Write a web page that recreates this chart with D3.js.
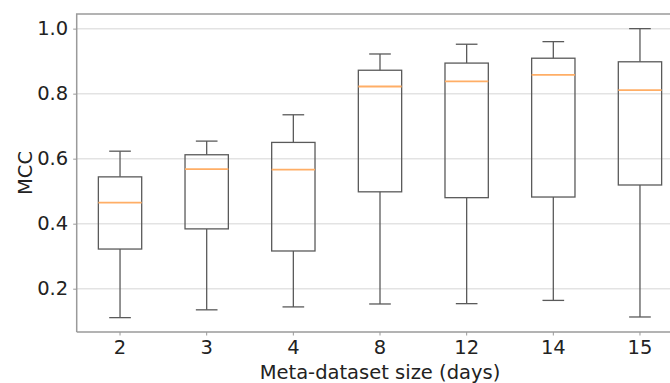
<!DOCTYPE html>
<html>
<head>
<meta charset="utf-8">
<script src="https://cdn.jsdelivr.net/npm/d3@7"></script>
<style>
  body { margin: 0; background: #fff; }
  svg { display: block; font-family: "DejaVu Sans", sans-serif; }
</style>
</head>
<body>
<svg id="chart" width="670" height="383"></svg>
<script>
// data
var sizes = ["2", "3", "4", "8", "12", "14", "15"]
var whiskerLow = [0.111, 0.135, 0.144, 0.153, 0.154, 0.164, 0.113]
var q1 = [0.322, 0.384, 0.316, 0.498, 0.480, 0.482, 0.519]
var median = [0.465, 0.568, 0.566, 0.822, 0.838, 0.858, 0.811]
var q3 = [0.544, 0.612, 0.650, 0.872, 0.894, 0.909, 0.898]
var whiskerHigh = [0.623, 0.654, 0.735, 0.922, 0.952, 0.960, 1.0]
var yTicks = [0.2, 0.4, 0.6, 0.8, 1.0]

var boxes = sizes.map(function(s, i){
  return {size: s, lo: whiskerLow[i], q1: q1[i], med: median[i], q3: q3[i], hi: whiskerHigh[i]}
})

var svg = d3.select("#chart")
var plotLeft = 76.7, plotRight = 683.3, plotTop = 14, plotBottom = 332

var x = d3.scaleBand().domain(sizes).range([plotLeft, plotRight]).paddingInner(0).paddingOuter(0)
var y = d3.scaleLinear().domain([0.0668, 1.045]).range([plotBottom, plotTop])
var bw = x.bandwidth()

// grid
svg.append("g")
  .selectAll("line")
  .data(yTicks)
  .enter()
  .append("line")
    .attr("x1", plotLeft)
    .attr("x2", plotRight)
    .attr("y1", function(d){ return y(d) })
    .attr("y2", function(d){ return y(d) })
    .attr("stroke", "#e3e3e3")
    .attr("stroke-width", 1.5)

// boxes
var g = svg.append("g")
  .selectAll(".box")
  .data(boxes)
  .enter()
  .append("g")
    .attr("class", "box")
    .attr("transform", function(d){ return "translate(" + (x(d.size) + bw / 2) + ",0)" })

g.append("line")
  .attr("x1", 0).attr("x2", 0)
  .attr("y1", function(d){ return y(d.q3) })
  .attr("y2", function(d){ return y(d.hi) })
  .attr("stroke", "#5a5a5a").attr("stroke-width", 1.3)

g.append("line")
  .attr("x1", 0).attr("x2", 0)
  .attr("y1", function(d){ return y(d.q1) })
  .attr("y2", function(d){ return y(d.lo) })
  .attr("stroke", "#5a5a5a").attr("stroke-width", 1.3)

g.selectAll(".cap")
  .data(function(d){ return [d.lo, d.hi] })
  .enter()
  .append("line")
    .attr("class", "cap")
    .attr("x1", -bw / 8).attr("x2", bw / 8)
    .attr("y1", function(v){ return y(v) })
    .attr("y2", function(v){ return y(v) })
    .attr("stroke", "#5a5a5a").attr("stroke-width", 1.3)

g.append("rect")
  .attr("x", -bw / 4)
  .attr("width", bw / 2)
  .attr("y", function(d){ return y(d.q3) })
  .attr("height", function(d){ return y(d.q1) - y(d.q3) })
  .attr("fill", "none")
  .attr("stroke", "#5a5a5a").attr("stroke-width", 1.3)

g.append("line")
  .attr("x1", -bw / 4).attr("x2", bw / 4)
  .attr("y1", function(d){ return y(d.med) })
  .attr("y2", function(d){ return y(d.med) })
  .attr("stroke", "#ffae66").attr("stroke-width", 1.8)

// axes
var xAxis = svg.append("g")
  .attr("transform", "translate(0," + plotBottom + ")")
  .call(d3.axisBottom(x).tickSize(3.5).tickPadding(5))
var yAxis = svg.append("g")
  .attr("transform", "translate(" + plotLeft + ",0)")
  .call(d3.axisLeft(y).tickValues(yTicks).tickFormat(d3.format(".1f")).tickSize(3.5).tickPadding(5))

;[xAxis, yAxis].forEach(function(a){
  a.select(".domain").remove()
  a.selectAll(".tick line").attr("stroke", "#999")
  a.selectAll(".tick text")
    .attr("font-family", "DejaVu Sans, sans-serif")
    .attr("font-size", 19.5)
    .attr("fill", "#222")
})

// spines
svg.append("path")
  .attr("d", "M" + plotLeft + "," + plotBottom + "V" + plotTop + "H" + plotRight + "M" + plotLeft + "," + plotBottom + "H" + plotRight)
  .attr("fill", "none")
  .attr("stroke", "#9a9a9a")
  .attr("stroke-width", 1.5)

// labels
svg.append("text")
  .attr("x", (plotLeft + plotRight) / 2)
  .attr("y", 379)
  .attr("text-anchor", "middle")
  .attr("font-size", 19.5)
  .attr("fill", "#222")
  .text("Meta-dataset size (days)")

svg.append("text")
  .attr("transform", "translate(32," + ((plotTop + plotBottom) / 2) + ") rotate(-90)")
  .attr("text-anchor", "middle")
  .attr("font-size", 19.5)
  .attr("fill", "#222")
  .text("MCC")
</script>
</body>
</html>
